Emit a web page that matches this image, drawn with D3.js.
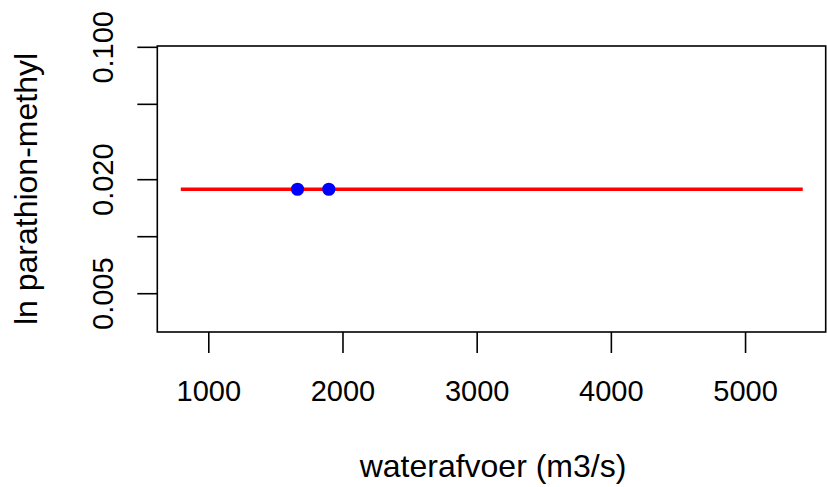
<!DOCTYPE html>
<html>
<head>
<meta charset="utf-8">
<script src="https://cdn.jsdelivr.net/npm/d3@7"></script>
<style>
  html, body { margin: 0; padding: 0; background: #fff; }
  svg { display: block; }
  text { font-family: "Liberation Sans", Arial, sans-serif; fill: #000; }
</style>
</head>
<body>
<svg id="chart" width="827" height="487"></svg>
<script>
// ---- data ----
const pointX = [1665, 1898];
const pointY = [0.0177, 0.0177];
const fitX = [795, 5430];
const fitY = [0.0177, 0.0177];
const xTicks = [1000, 2000, 3000, 4000, 5000];
const xTickLabels = ["1000", "2000", "3000", "4000", "5000"];
const yTicks = [0.005, 0.01, 0.02, 0.05, 0.1];
const yTickLabels = ["0.005", "", "0.020", "", "0.100"];
const xDomain = [620, 5601];
const yDomain = [0.00312, 0.101];
const xLabel = "waterafvoer (m3/s)";
const yLabel = "ln parathion-methyl";

// ---- layout ----
const plot = { left: 157.3, right: 825.7, top: 46, bottom: 332 };
const svg = d3.select("#chart");

const x = d3.scaleLinear().domain(xDomain).range([plot.left, plot.right]);
const y = d3.scaleLog().domain(yDomain).range([plot.bottom, plot.top]);

// fitted line
svg.append("path")
  .datum(fitX.map((v, i) => [v, fitY[i]]))
  .attr("d", d3.line().x(d => x(d[0])).y(d => y(d[1])))
  .attr("fill", "none")
  .attr("stroke", "#ff0000")
  .attr("stroke-width", 3.4);

// points
svg.selectAll("circle.pt")
  .data(pointX.map((v, i) => [v, pointY[i]]))
  .join("circle")
  .attr("class", "pt")
  .attr("cx", d => x(d[0]))
  .attr("cy", d => y(d[1]))
  .attr("r", 6.6)
  .attr("fill", "#0000ff");

// box
svg.append("rect")
  .attr("x", plot.left).attr("y", plot.top)
  .attr("width", plot.right - plot.left)
  .attr("height", plot.bottom - plot.top)
  .attr("fill", "none").attr("stroke", "#000").attr("stroke-width", 1.6);

// x axis
const xAxis = d3.axisBottom(x)
  .tickValues(xTicks)
  .tickFormat((d, i) => xTickLabels[i])
  .tickSizeInner(21).tickSizeOuter(0).tickPadding(0);
const gx = svg.append("g").attr("transform", `translate(0,${plot.bottom})`).call(xAxis);
gx.select(".domain").remove();
gx.selectAll(".tick line").attr("stroke", "#000").attr("stroke-width", 1.6);
gx.selectAll(".tick text")
  .attr("y", 69).attr("dy", null)
  .style("font-family", '"Liberation Sans", Arial, sans-serif')
  .style("font-size", "29px").attr("fill", "#000");

// y axis
const yAxis = d3.axisLeft(y)
  .tickValues(yTicks)
  .tickFormat((d, i) => yTickLabels[i])
  .tickSizeInner(20).tickSizeOuter(0).tickPadding(0);
const gy = svg.append("g").attr("transform", `translate(${plot.left},0)`).call(yAxis);
gy.select(".domain").remove();
gy.selectAll(".tick line").attr("stroke", "#000").attr("stroke-width", 1.6);
gy.selectAll(".tick text")
  .attr("x", null).attr("dy", null)
  .attr("text-anchor", "middle")
  .attr("transform", `translate(${113 - plot.left},0) rotate(-90)`)
  .style("font-family", '"Liberation Sans", Arial, sans-serif')
  .style("font-size", "29px").attr("fill", "#000");

// axis titles
svg.append("text")
  .attr("x", (plot.left + plot.right) / 2 + 1.5)
  .attr("y", 477)
  .attr("text-anchor", "middle")
  .style("font-size", "32px")
  .text(xLabel);

svg.append("text")
  .attr("transform", `translate(37,${(plot.top + plot.bottom) / 2}) rotate(-90)`)
  .attr("text-anchor", "middle")
  .style("font-size", "32px")
  .text(yLabel);
</script>
</body>
</html>
